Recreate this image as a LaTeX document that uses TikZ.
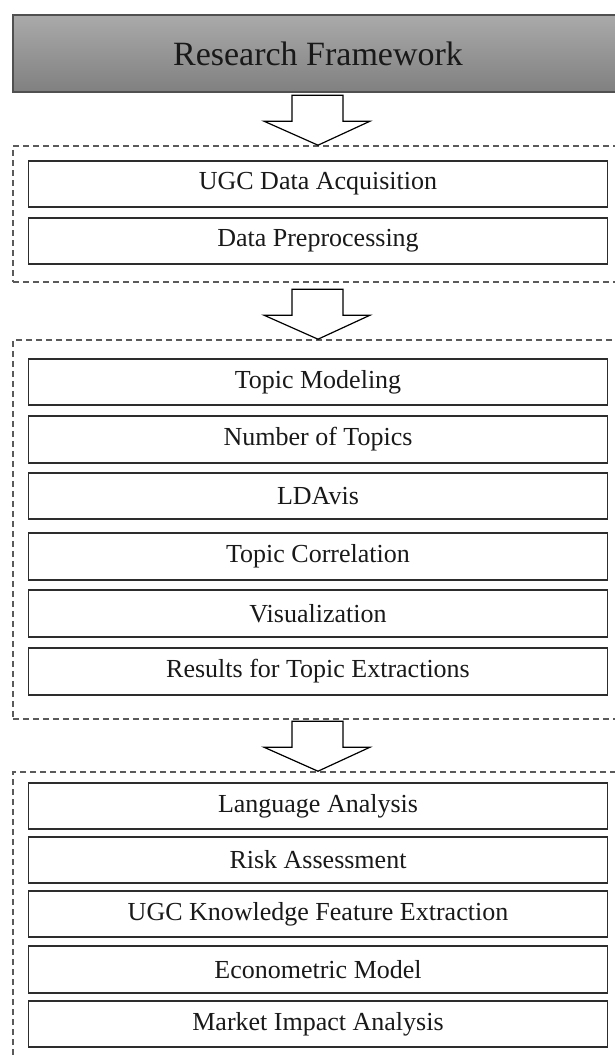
\documentclass[tikz,border=0pt]{standalone}
\usepackage{fontspec}
\setmainfont{Liberation Serif}
\usetikzlibrary{calc}
\definecolor{hdrtop}{RGB}{170,170,170}
\definecolor{hdrbot}{RGB}{128,128,128}
\definecolor{hdrline}{RGB}{80,80,80}
\definecolor{boxline}{RGB}{45,45,45}
\definecolor{dashline}{RGB}{90,90,90}
\definecolor{txt}{RGB}{25,25,25}
\tikzset{
  titlebox/.style={draw=hdrline, line width=1.3pt, top color=hdrtop, bottom color=hdrbot,
    minimum width=610pt, minimum height=77pt, inner sep=0pt, text=txt,
    font=\fontsize{34}{40}\selectfont},
  secbox/.style={draw=dashline, line width=1.6pt, dash pattern=on 6pt off 4pt,
    minimum width=610pt, inner sep=0pt},
  stepbox/.style={draw=boxline, line width=1.8pt, minimum width=579pt, minimum height=46pt,
    inner sep=0pt, text=txt, font=\fontsize{26}{30}\selectfont},
  barrow/.style={draw=black, line width=1.2pt, fill=white, line join=miter}
}
\newcommand{\blockarrowto}[1]{%
  \draw[barrow] (#1.north) ++(-26,-50) -- ++(51,0) -- ++(0,26) -- ++(27,0)
    -- (#1.north) -- ++(-54,-24) -- ++(28,0) -- cycle;}
\begin{document}
\begin{tikzpicture}[x=1pt,y=-1pt]
\useasboundingbox (0,0) rectangle (615,1057);
\clip (0,0) rectangle (615,1057);
\fill[white] (0,0) rectangle (615,1057);

% title
\node[titlebox] (title) at (318,53.5) {Research Framework};

% section 1
\node[secbox, minimum height=136pt] (sec1) at (318,214) {};
\node[stepbox] (ugc) at (318,184) {UGC Data Acquisition};
\node[stepbox] (prep) at (318,241) {Data Preprocessing};

% section 2
\node[secbox, minimum height=379pt] (sec2) at (318,529.5) {};
\node[stepbox] (tm) at (318,382) {Topic Modeling};
\node[stepbox, minimum height=47pt] (nt) at (318,439.5) {Number of Topics};
\node[stepbox] (lda) at (318,496) {LDAvis};
\node[stepbox, minimum height=47pt] (tc) at (318,556.5) {Topic Correlation};
\node[stepbox, minimum height=47pt] (vis) at (318,613.5) {Visualization};
\node[stepbox, minimum height=47pt] (res) at (318,671.5) {Results for Topic Extractions};

% section 3
\node[secbox, minimum height=303pt] (sec3) at (318,923.5) {};
\node[stepbox] (lang) at (318,806) {Language Analysis};
\node[stepbox] (risk) at (318,860) {Risk Assessment};
\node[stepbox] (kfe) at (318,914) {UGC Knowledge Feature Extraction};
\node[stepbox, minimum height=47pt] (eco) at (318,969.5) {Econometric Model};
\node[stepbox] (mia) at (318,1024) {Market Impact Analysis};

% block arrows
\blockarrowto{sec1}
\blockarrowto{sec2}
\blockarrowto{sec3}
\end{tikzpicture}
\end{document}
